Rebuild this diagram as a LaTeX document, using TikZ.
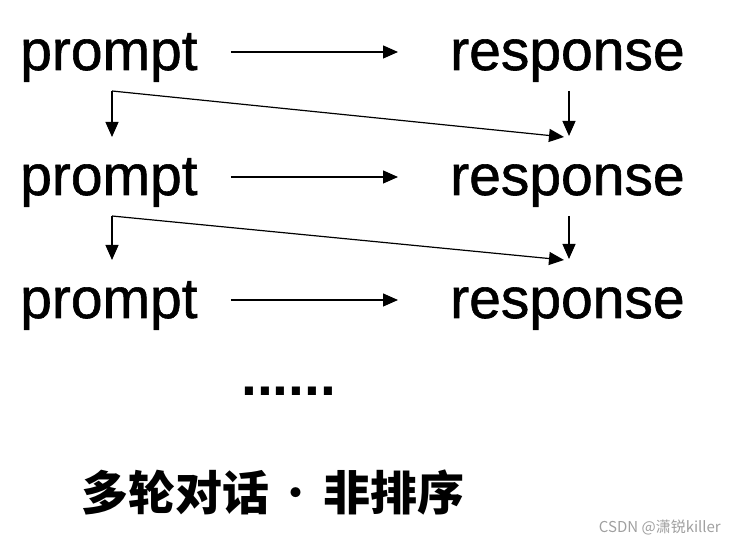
\documentclass[tikz,border=0pt]{standalone}
\usepackage{fontspec}
\setmainfont{Liberation Sans}
\newfontfamily\wordfont{Liberation Sans}[FakeBold=1]
\newfontfamily\cjk{Noto Sans CJK SC}
\definecolor{markgray}{RGB}{160,160,160}
\usetikzlibrary{arrows.meta}

\begin{document}
\begin{tikzpicture}[x=1pt,y=1pt,
    word/.style={font=\fontsize{57}{57}\selectfont\wordfont,inner sep=0pt,
      anchor=base west,text height=36pt,text depth=0pt},
    arr/.style={-{Triangle[length=15pt,width=13pt]},line width=1.2pt}]
  \useasboundingbox (0,0) rectangle (735,545);
  % three rounds of prompt and response
  \foreach \i/\y in {1/475,2/350,3/227}{
    \node[word] (p\i) at (20,\y) {prompt};
    \node[word] (r\i) at (450,\y) {response};
    \draw[arr,shorten <=33pt,shorten >=52pt] (p\i) -- (r\i);
  }
  % history fed into the next round
  \foreach \i/\j in {1/2,2/3}{
    \coordinate (a\i) at ([shift={(92,-21)}]p\i.base west);
    \coordinate (b\i) at ([shift={(92,58)}]p\j.base west);
    \coordinate (c\i) at ([shift={(119,-21)}]r\i.base west);
    \coordinate (d\i) at ([shift={(119,59)}]r\j.base west);
    \coordinate (e\i) at ([shift={(114,58)}]r\j.base west);
    \draw[arr] (a\i) -- (b\i);
    \draw[arr] (c\i) -- (d\i);
    \draw[arr] (a\i) -- (e\i);
  }
  \node[font=\fontsize{57}{57}\selectfont\bfseries,inner sep=0pt,anchor=base west]
    (more) at (241,149) {......};
  \node[font=\fontsize{47}{47}\selectfont\cjk\bfseries,inner sep=0pt,anchor=base west]
    (title) at (81,34) {多轮对话\makebox[1.15em]{\mdseries·}非排序};
  \node[font=\fontsize{15}{15}\selectfont\cjk\color{markgray},inner sep=0pt,anchor=base east]
    (mark) at (721,12) {CSDN @潇锐killer};
\end{tikzpicture}
\end{document}
